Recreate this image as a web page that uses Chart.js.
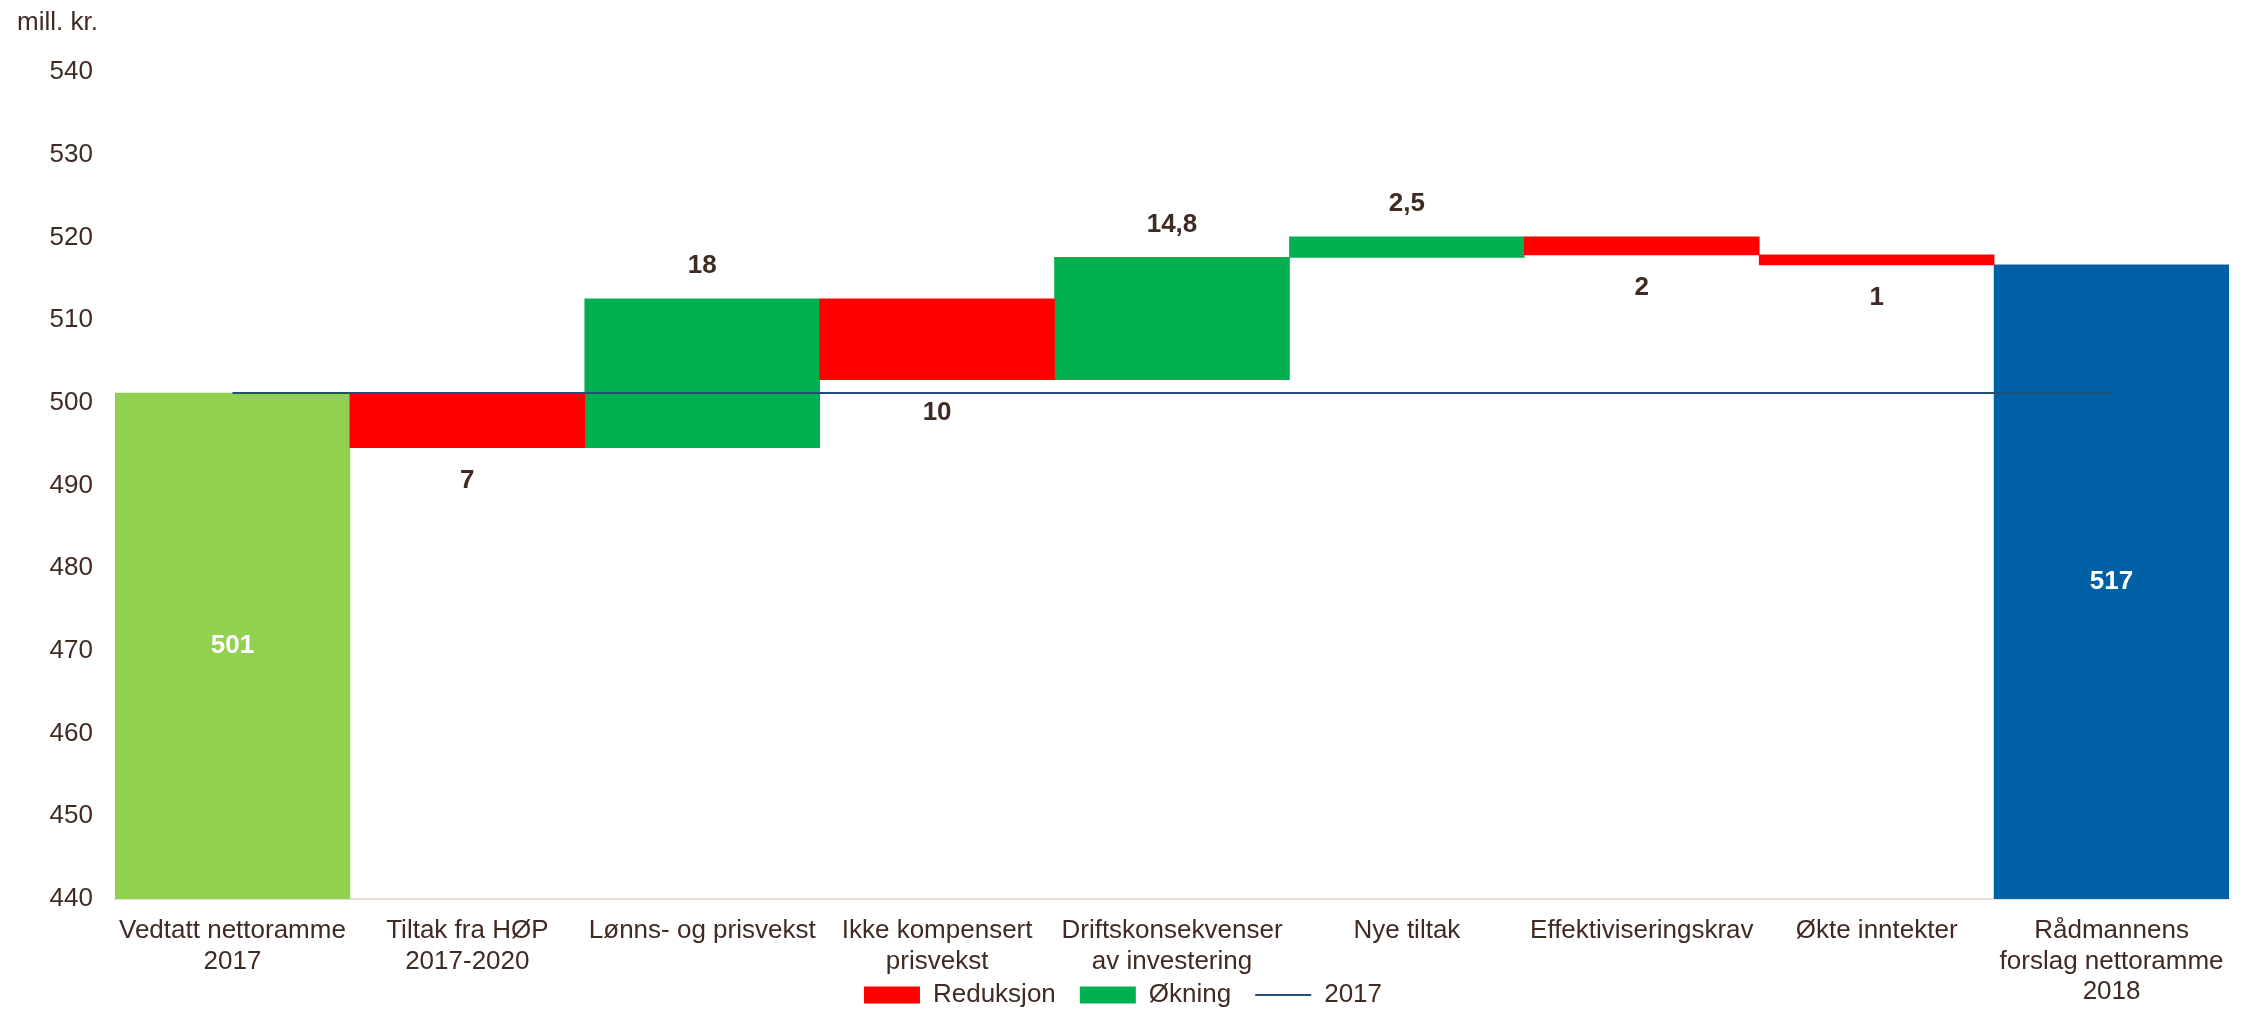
<!DOCTYPE html>
<html>
<head>
<meta charset="utf-8">
<title>Nettoramme 2017-2018</title>
<script src="https://cdn.jsdelivr.net/npm/chart.js@4/dist/chart.umd.min.js"></script>
<style>
  html, body { margin: 0; padding: 0; background: #fff; }
  #wrap { width: 2252px; height: 1013px; }
</style>
</head>
<body>
<div id="wrap"><canvas id="chart" width="2252" height="1013"></canvas></div>
<script>
const categories = [
  ['Vedtatt nettoramme', '2017'],
  ['Tiltak fra HØP', '2017-2020'],
  'Lønns- og prisvekst',
  ['Ikke kompensert', 'prisvekst'],
  ['Driftskonsekvenser', 'av investering'],
  'Nye tiltak',
  'Effektiviseringskrav',
  'Økte inntekter',
  ['Rådmannens', 'forslag nettoramme', '2018']
];
const startValue = 501.2;
const endValue = 516.7;
// one change per step between the two totals
const changes = [-6.6, 18, -9.8, 14.8, 2.5, -2.2, -1.2];
const valueLabels = ['501', '7', '18', '10', '14,8', '2,5', '2', '1', '517'];
const line2017 = [501.2, 501.2, 501.2, 501.2, 501.2, 501.2, 501.2, 501.2, 501.2];
const yTicks = { min: 440, max: 540, step: 10 };

const TEXT = '#3F2B23';
const RED = '#FF0000';
const GREEN = '#00B050';
const LIGHT_GREEN = '#92D050';
const BLUE = '#0060A6';
const LINE_BLUE = '#1F4E79';
const LEGEND_Y = 995;   // centre of the legend row
const AXIS_Y = 899;     // where the 440 line sits

// floating bars for the steps
const totals = categories.map(() => null);
totals[0] = startValue;
totals[categories.length - 1] = endValue;
const reduksjon = categories.map(() => null);
const okning = categories.map(() => null);
let level = startValue;
changes.forEach((c, i) => {
  const next = level + c;
  if (c < 0) reduksjon[i + 1] = [next, level];
  else okning[i + 1] = [level, next];
  level = next;
});

const valueLabelPlugin = {
  id: 'valueLabels',
  afterDatasetsDraw(chart) {
    const ctx = chart.ctx;
    const xs = chart.scales.x;
    const ys = chart.scales.y;
    ctx.save();
    ctx.font = 'bold 26px "Liberation Sans", Arial, sans-serif';
    ctx.textAlign = 'center';
    ctx.textBaseline = 'middle';
    chart.data.datasets.forEach(ds => {
      if (!ds.labelPos) return;
      ds.data.forEach((v, i) => {
        if (v == null) return;
        const lo = Array.isArray(v) ? Math.min(v[0], v[1]) : ys.min;
        const hi = Array.isArray(v) ? Math.max(v[0], v[1]) : v;
        const top = ys.getPixelForValue(hi);
        const bottom = ys.getPixelForValue(lo);
        let y;
        if (ds.labelPos === 'center') {
          ctx.fillStyle = '#FFFFFF';
          y = (top + bottom) / 2;
        } else if (ds.labelPos === 'above') {
          ctx.fillStyle = TEXT;
          y = top - 33;
        } else {
          ctx.fillStyle = TEXT;
          y = bottom + 33;
        }
        ctx.fillText(valueLabels[i], xs.getPixelForValue(i), y);
      });
    });
    ctx.restore();
  }
};

// legend takes no room in the layout; it sits on the row of the last x label
const legendOverlay = {
  id: 'legendOverlay',
  beforeLayout(chart) {
    const lg = chart.legend;
    if (lg && !lg._overlay) {
      const fit = lg.fit;
      lg.fit = function () {
        fit.call(this);
        this._realHeight = this.height;
        this.height = 0;
      };
      lg._overlay = true;
    }
  },
  afterLayout(chart) {
    const lg = chart.legend;
    if (!lg) return;
    const pad = lg.options.labels.padding;
    lg.height = lg._realHeight;
    lg.top = LEGEND_Y - pad - 13;
    lg.bottom = lg.top + lg.height;
  }
};

Chart.defaults.font.family = '"Liberation Sans", Arial, sans-serif';
Chart.defaults.font.size = 26;
Chart.defaults.color = TEXT;

new Chart(document.getElementById('chart'), {
  type: 'bar',
  data: {
    labels: categories,
    datasets: [
      {
        label: 'Reduksjon',
        data: reduksjon,
        backgroundColor: RED,
        grouped: false,
        pointStyle: 'rect',
        labelPos: 'below',
        order: 1
      },
      {
        label: 'Økning',
        data: okning,
        backgroundColor: GREEN,
        grouped: false,
        pointStyle: 'rect',
        labelPos: 'above',
        order: 1
      },
      {
        type: 'line',
        label: '2017',
        data: line2017,
        borderColor: LINE_BLUE,
        borderWidth: 2,
        pointRadius: 0,
        pointStyle: 'line',
        order: 0
      },
      {
        label: '',
        data: totals,
        backgroundColor: [LIGHT_GREEN, null, null, null, null, null, null, null, BLUE],
        grouped: false,
        pointStyle: 'rect',
        labelPos: 'center',
        order: 1
      }
    ]
  },
  options: {
    responsive: false,
    animation: false,
    categoryPercentage: 1,
    barPercentage: 1,
    layout: { padding: { left: 17, right: 23, top: 0, bottom: 0 } },
    plugins: {
      title: {
        display: true,
        text: 'mill. kr.',
        align: 'start',
        color: TEXT,
        font: { size: 26, weight: 'normal' },
        padding: { top: 7, bottom: 34 }
      },
      legend: {
        position: 'bottom',
        labels: {
          usePointStyle: true,
          pointStyleWidth: 56,
          boxHeight: 17,
          padding: 24,
          color: TEXT,
          font: { size: 26 },
          filter: item => item.text !== '',
          sort: (a, b) => a.datasetIndex - b.datasetIndex
        }
      },
      tooltip: { enabled: false }
    },
    scales: {
      x: {
        z: 1,
        grid: { display: false, drawTicks: false },
        border: { display: true, color: '#E6DDD5', width: 2 },
        ticks: {
          color: TEXT,
          font: { size: 26, lineHeight: 1.17 },
          padding: 17,
          maxRotation: 0,
          autoSkip: false
        },
        afterFit: s => { s.height = s.chart.height - AXIS_Y; }
      },
      y: {
        min: yTicks.min,
        max: yTicks.max,
        grid: { display: false, drawTicks: false },
        border: { display: false },
        ticks: { stepSize: yTicks.step, color: TEXT, padding: 22, font: { size: 26 } },
        afterFit: s => { s.width = 98; }
      }
    }
  },
  plugins: [valueLabelPlugin, legendOverlay]
});
</script>
</body>
</html>
